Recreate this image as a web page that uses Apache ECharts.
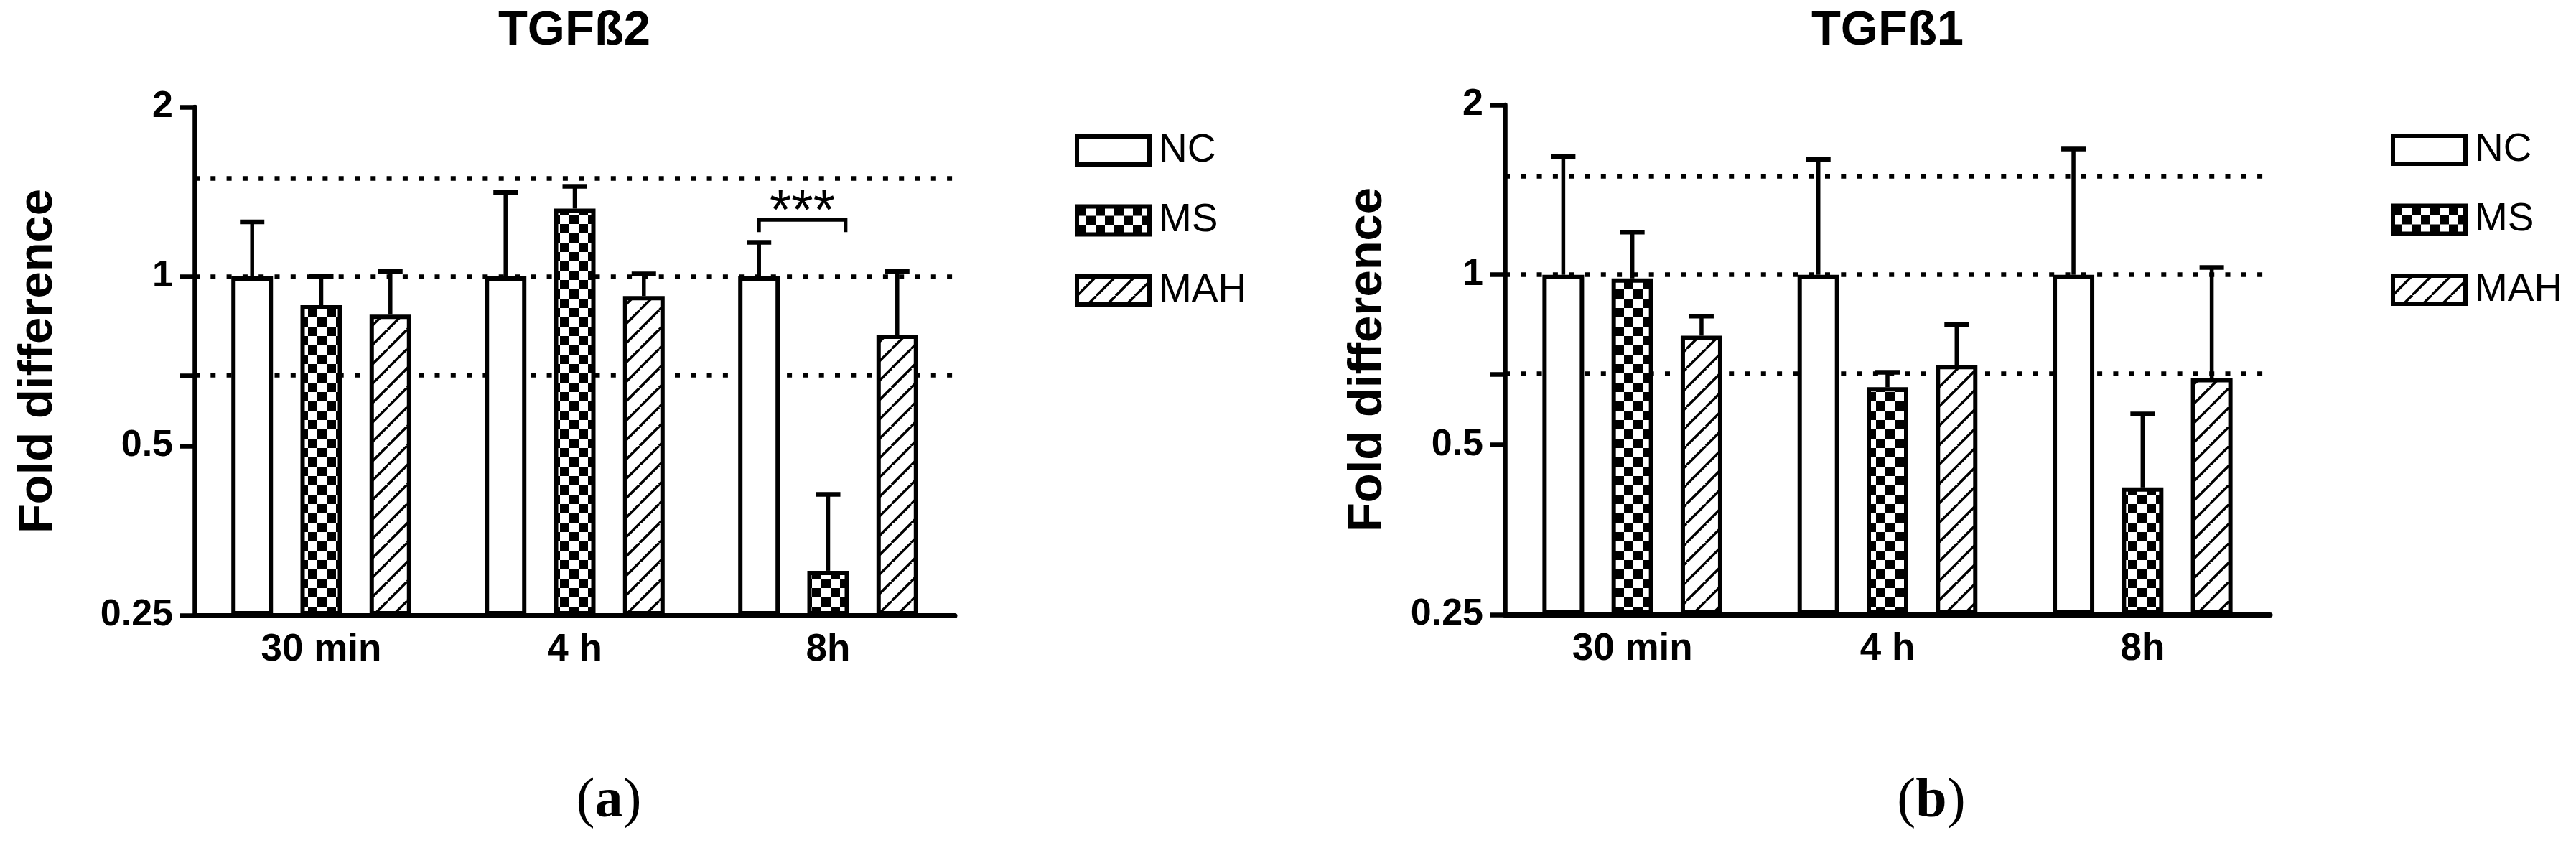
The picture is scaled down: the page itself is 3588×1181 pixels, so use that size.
<!DOCTYPE html>
<html>
<head>
<meta charset="utf-8">
<title>TGFß2 / TGFß1</title>
<script src="https://cdn.jsdelivr.net/npm/echarts@6/dist/echarts.min.js"></script>
<style>
  html, body { margin: 0; padding: 0; background: #fff; }
  #main { width: 3588px; height: 1181px; }
</style>
</head>
<body>
<div id="main"></div>
<script>
// categories / groups / ticks
var categories = ['30 min', '4 h', '8h'];
var groups = ['NC', 'MS', 'MAH'];
var yTickLabels = ['0.25', '0.5', '1', '2'];
var thresholds = [1.5, 1, 1 / 1.5];

// TGFß2 (panel a): bar height and top of error bar, fold difference
var tgfb2NC = [1, 1, 1];
var tgfb2NCErr = [1.25, 1.41, 1.15];
var tgfb2MS = [0.889, 1.32, 0.30];
var tgfb2MSErr = [1.0, 1.446, 0.41];
var tgfb2MAH = [0.855, 0.923, 0.788];
var tgfb2MAHErr = [1.02, 1.01, 1.02];

// TGFß1 (panel b)
var tgfb1NC = [1, 1, 1];
var tgfb1NCErr = [1.62, 1.60, 1.67];
var tgfb1MS = [0.985, 0.632, 0.42];
var tgfb1MSErr = [1.19, 0.672, 0.567];
var tgfb1MAH = [0.78, 0.692, 0.656];
var tgfb1MAHErr = [0.845, 0.816, 1.03];

// significance bracket on panel a: 8h, NC vs MS
var sigCategory = 2;
var sigLevel = 1.26;
var sigStarLevel = 1.36;
var sigText = '***';

var SANS = '"Liberation Sans", Arial, Helvetica, sans-serif';
var SERIF = '"Liberation Serif", "Times New Roman", serif';
var BAR_W = 58;
var BAR_GAP = 0.66;
var BAR_PITCH = BAR_W * (1 + BAR_GAP);

// log2 scale with 0.25 as the floor so bars grow from the bottom
function lv(v) { return Math.log(v / 0.25) / Math.LN2; }

function checkerPattern() {
    var c = document.createElement('canvas');
    var s = 13;
    c.width = s * 2; c.height = s * 2;
    var ctx = c.getContext('2d');
    ctx.fillStyle = '#fff';
    ctx.fillRect(0, 0, s * 2, s * 2);
    ctx.fillStyle = '#000';
    ctx.fillRect(0, 0, s, s);
    ctx.fillRect(s, s, s, s);
    return { image: c, repeat: 'repeat' };
}

function hatchPattern() {
    var c = document.createElement('canvas');
    var s = 27;
    c.width = s; c.height = s;
    var ctx = c.getContext('2d');
    ctx.fillStyle = '#fff';
    ctx.fillRect(0, 0, s, s);
    ctx.strokeStyle = '#000';
    ctx.lineWidth = 3.5;
    [-s, 0, s].forEach(function (off) {
        ctx.beginPath();
        ctx.moveTo(off, s);
        ctx.lineTo(off + s, 0);
        ctx.stroke();
    });
    return { image: c, repeat: 'repeat' };
}

var fills = ['#fff', checkerPattern(), hatchPattern()];

function barSeries(gi, k, values) {
    return {
        name: groups[k],
        type: 'bar',
        xAxisIndex: gi,
        yAxisIndex: gi,
        z: 2,
        barWidth: BAR_W,
        barGap: (BAR_GAP * 100) + '%',
        silent: true,
        itemStyle: { color: fills[k], borderColor: '#000', borderWidth: 6 },
        data: values.map(lv)
    };
}

function errorSeries(gi, k, values, errs) {
    return {
        type: 'custom',
        xAxisIndex: gi,
        yAxisIndex: gi,
        z: 3,
        silent: true,
        encode: { x: 0, y: 1 },
        data: values.map(function (v, i) { return [i, lv(errs[i]), lv(v)]; }),
        renderItem: function (params, api) {
            var top = api.coord([api.value(0), api.value(1)]);
            var base = api.coord([api.value(0), api.value(2)]);
            var x = top[0] + (k - 1) * BAR_PITCH;
            return {
                type: 'group',
                children: [
                    { type: 'line', shape: { x1: x, y1: base[1], x2: x, y2: top[1] },
                      style: { stroke: '#000', lineWidth: 5.5 } },
                    { type: 'line', shape: { x1: x - 17, y1: top[1], x2: x + 17, y2: top[1] },
                      style: { stroke: '#000', lineWidth: 6.5 } }
                ]
            };
        }
    };
}

function guideSeries(gi) {
    return {
        type: 'line',
        xAxisIndex: gi,
        yAxisIndex: gi,
        data: [],
        silent: true,
        markLine: {
            z: 1,
            silent: true,
            symbol: 'none',
            label: { show: false },
            lineStyle: { color: '#000', width: 6.5, type: [7, 15.3], opacity: 1 },
            emphasis: { disabled: true },
            data: thresholds.map(function (t) { return { yAxis: lv(t) }; })
        }
    };
}

var sigSeries = {
    type: 'custom',
    xAxisIndex: 0,
    yAxisIndex: 0,
    z: 3,
    silent: true,
    encode: { x: 0, y: 1 },
    data: [[sigCategory, lv(sigLevel), lv(sigStarLevel)]],
    renderItem: function (params, api) {
        var p = api.coord([api.value(0), api.value(1)]);
        var s = api.coord([api.value(0), api.value(2)]);
        var lx = p[0] - BAR_PITCH;
        var rx = p[0] + BAR_W * 0.42;
        var fs = 78;
        return {
            type: 'group',
            children: [
                { type: 'polyline',
                  shape: { points: [[lx, p[1] + 17], [lx, p[1]], [rx, p[1]], [rx, p[1] + 17]] },
                  style: { stroke: '#000', lineWidth: 5, fill: null } },
                { type: 'text',
                  style: { text: sigText, x: (lx + rx) / 2, y: s[1] + 0.22 * fs,
                           align: 'center', verticalAlign: 'middle',
                           font: fs + 'px ' + SANS, fill: '#000' } }
            ]
        };
    }
};

var grids = [
    { left: 271, top: 149, width: 1059, height: 708 },
    { left: 2096, top: 146, width: 1066, height: 710 }
];
var nameGaps = [184, 157];

function xAxis(gi) {
    return {
        type: 'category',
        gridIndex: gi,
        data: categories,
        axisLine: { lineStyle: { color: '#000', width: 7 } },
        axisTick: { show: false },
        axisLabel: { color: '#000', fontFamily: SANS, fontWeight: 'bold', fontSize: 53, margin: 22 },
        splitLine: { show: false }
    };
}

function yAxis(gi) {
    return {
        type: 'value',
        gridIndex: gi,
        min: 0,
        max: 3,
        interval: 1,
        name: 'Fold difference',
        nameLocation: 'middle',
        nameGap: nameGaps[gi],
        nameTextStyle: { color: '#000', fontFamily: SANS, fontWeight: 'bold', fontSize: 67 },
        axisLine: { show: true, lineStyle: { color: '#000', width: 6.5 } },
        axisTick: {
            show: true, length: 20, lineStyle: { color: '#000', width: 6.5 },
            customValues: [0, 1, lv(thresholds[2]), 2, 3]
        },
        axisLabel: {
            color: '#000', fontFamily: SANS, fontWeight: 'bold', fontSize: 52, margin: 30,
            customValues: [0, 1, 2, 3],
            formatter: function (v) { return yTickLabels[Math.round(v)]; }
        },
        splitLine: { show: false }
    };
}

function legend(left, top) {
    return {
        data: groups,
        orient: 'vertical',
        left: left,
        top: top,
        icon: 'rect',
        itemWidth: 101,
        itemHeight: 39,
        itemGap: 42.5,
        selectedMode: false,
        itemStyle: { borderColor: '#000', borderWidth: 6 },
        textStyle: { color: '#000', fontFamily: SANS, fontSize: 55, lineHeight: 39, padding: [0, 0, 0, 8] }
    };
}

var chart = echarts.init(document.getElementById('main'));
var option = {
    backgroundColor: '#fff',
    animation: false,
    title: [
        { text: 'TGFß2', left: 800, top: 10, textAlign: 'center', padding: 0,
          textStyle: { color: '#000', fontFamily: SANS, fontWeight: 'bold', fontSize: 67 } },
        { text: 'TGFß1', left: 2629, top: 10, textAlign: 'center', padding: 0,
          textStyle: { color: '#000', fontFamily: SANS, fontWeight: 'bold', fontSize: 67 } }
    ],
    legend: [legend(1492, 177), legend(3325, 176)],
    grid: grids,
    xAxis: [xAxis(0), xAxis(1)],
    yAxis: [yAxis(0), yAxis(1)],
    graphic: [
        { type: 'text', x: 848, y: 1117, silent: true,
          style: { text: '{p|(}{b|a}{p|)}', align: 'center', verticalAlign: 'middle',
                   rich: { p: { fontFamily: SERIF, fontSize: 78, fill: '#000' },
                           b: { fontFamily: SERIF, fontSize: 78, fontWeight: 'bold', fill: '#000' } } } },
        { type: 'text', x: 2690, y: 1117, silent: true,
          style: { text: '{p|(}{b|b}{p|)}', align: 'center', verticalAlign: 'middle',
                   rich: { p: { fontFamily: SERIF, fontSize: 78, fill: '#000' },
                           b: { fontFamily: SERIF, fontSize: 78, fontWeight: 'bold', fill: '#000' } } } }
    ],
    series: [
        guideSeries(0),
        barSeries(0, 0, tgfb2NC),
        barSeries(0, 1, tgfb2MS),
        barSeries(0, 2, tgfb2MAH),
        errorSeries(0, 0, tgfb2NC, tgfb2NCErr),
        errorSeries(0, 1, tgfb2MS, tgfb2MSErr),
        errorSeries(0, 2, tgfb2MAH, tgfb2MAHErr),
        sigSeries,
        guideSeries(1),
        barSeries(1, 0, tgfb1NC),
        barSeries(1, 1, tgfb1MS),
        barSeries(1, 2, tgfb1MAH),
        errorSeries(1, 0, tgfb1NC, tgfb1NCErr),
        errorSeries(1, 1, tgfb1MS, tgfb1MSErr),
        errorSeries(1, 2, tgfb1MAH, tgfb1MAHErr)
    ]
};
chart.setOption(option);
</script>
</body>
</html>
